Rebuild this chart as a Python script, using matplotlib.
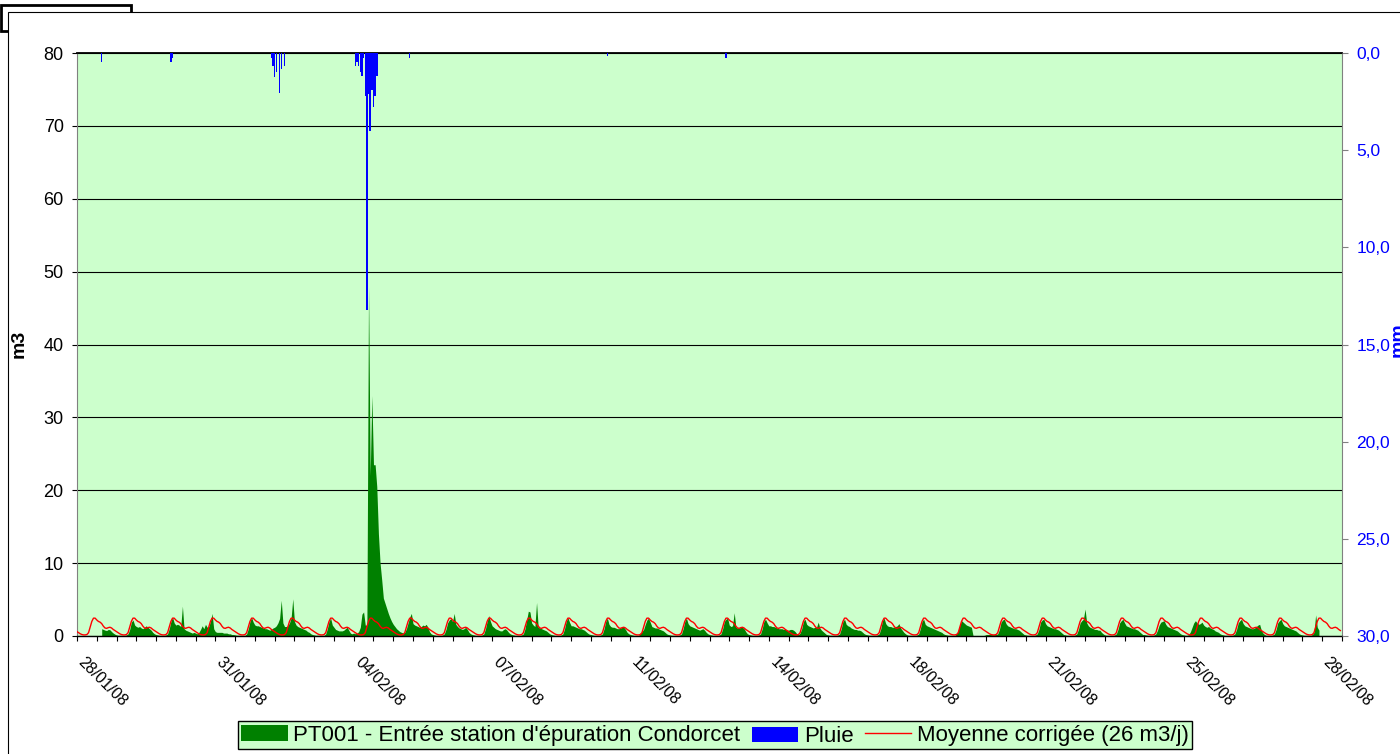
import numpy as np
import matplotlib.pyplot as plt
from matplotlib.patches import Rectangle
from matplotlib.lines import Line2D
from matplotlib.transforms import ScaledTranslation, blended_transform_factory

plt.rcParams['font.family'] = ['Liberation Sans', 'DejaVu Sans']

# x axis: hourly data from 28/01/08 00:00 to 29/02/08 00:00, label every 3.5 days
date_labels = ['28/01/08', '31/01/08', '04/02/08', '07/02/08', '11/02/08',
               '14/02/08', '18/02/08', '21/02/08', '25/02/08', '28/02/08']

# corrected mean daily profile (m3/h), hours 0..23, same every day
mean_profile = [0.6, 0.45, 0.3, 0.2, 0.15, 0.15, 0.2, 0.45, 1.2, 2.0, 2.45, 2.45,
                2.2, 2.0, 1.9, 1.7, 1.35, 1.1, 1.05, 1.15, 1.2, 1.1, 0.9, 0.75]

# measured flow PT001 (m3/h), one row per day, hours 0..23
flow_days = [
    [None] * 15 + [1.0, 0.9, 0.8, 0.75, 0.9, 0.85, 0.6, 0.4, 0.25],
    [0.15, 0.1, 0.1, 0.1, 0.1, 0.1, 0.15, 0.3, 0.9, 1.9, 2.2, 1.5, 1.3, 1.2, 1.3, 1.1, 1.0, 1.2, 1.4, 1.2, 1.0, 0.8, 0.5, 0.3],
    [0.2, 0.15, 0.1, 0.1, 0.1, 0.1, 0.15, 0.3, 1.0, 2.0, 2.6, 1.8, 1.5, 1.6, 1.5, 1.3, 4.1, 1.0, 0.8, 0.7, 0.6, 0.5, 0.4, 0.5],
    [0.4, 0.3, 0.5, 0.9, 1.4, 1.0, 1.6, 1.2, 1.3, 2.0, 3.1, 1.0, 0.6, 0.5, 0.5, 0.5, 0.5, 0.4, 0.4, 0.4, 0.3, 0.3, 0.2, 0.2],
    [0.15, 0.1, 0.1, 0.1, 0.1, 0.1, 0.1, 0.3, 1.0, 2.0, 2.55, 1.9, 1.5, 1.4, 1.4, 1.3, 1.2, 1.1, 1.0, 1.0, 0.9, 0.8, 0.9, 1.1],
    [1.2, 1.4, 1.8, 2.4, 4.9, 1.8, 1.3, 1.3, 1.4, 1.8, 2.5, 5.1, 2.0, 1.5, 1.3, 1.2, 1.1, 1.0, 0.9, 0.8, 0.6, 0.5, 0.3, 0.2],
    [0.15, 0.1, 0.1, 0.1, 0.1, 0.1, 0.1, 0.3, 1.0, 2.0, 2.45, 1.5, 1.2, 0.9, 0.8, 0.7, 0.7, 0.7, 0.8, 1.0, 1.2, 0.8, 0.4, 0.3],
    [0.4, 0.3, 0.4, 0.6, 1.2, 3.0, 3.3, 1.5, 1.5, 48.0, 22.0, 33.0, 23.5, 23.5, 20.5, 14.0, 10.0, 7.7, 5.2, 4.5, 3.8, 3.1, 2.5, 2.0],
    [1.6, 1.3, 1.0, 0.8, 0.6, 0.5, 0.4, 0.5, 1.0, 1.8, 2.6, 3.1, 1.7, 1.5, 1.4, 1.3, 1.2, 1.3, 1.5, 1.4, 1.6, 1.2, 0.6, 0.3],
    [0.2, 0.15, 0.1, 0.1, 0.1, 0.1, 0.15, 0.3, 0.9, 1.8, 2.2, 2.4, 2.0, 3.1, 1.6, 1.3, 1.1, 1.0, 0.9, 1.0, 1.2, 0.9, 0.5, 0.3],
    [0.2, 0.15, 0.1, 0.1, 0.1, 0.1, 0.15, 0.3, 1.0, 2.0, 2.8, 2.0, 1.4, 1.2, 1.0, 0.9, 0.8, 0.7, 0.7, 0.9, 1.0, 0.8, 0.5, 0.3],
    [0.2, 0.15, 0.1, 0.1, 0.1, 0.1, 0.15, 0.3, 1.0, 2.2, 3.4, 3.3, 1.8, 1.5, 1.3, 4.6, 1.2, 1.1, 1.0, 0.9, 0.8, 0.7, 0.5, 0.3],
    [0.2, 0.15, 0.1, 0.1, 0.1, 0.1, 0.15, 0.3, 1.0, 2.0, 2.55, 1.9, 1.4, 1.4, 1.3, 1.2, 1.1, 1.0, 1.0, 0.9, 0.8, 0.6, 0.4, 0.25],
    [0.2, 0.15, 0.1, 0.1, 0.1, 0.1, 0.15, 0.3, 1.0, 2.0, 2.45, 1.6, 1.3, 1.2, 1.2, 1.1, 1.0, 1.0, 1.1, 1.2, 1.2, 0.9, 0.5, 0.3],
    [0.2, 0.15, 0.1, 0.1, 0.1, 0.1, 0.4, 0.6, 0.9, 1.6, 2.2, 2.45, 1.9, 1.3, 1.2, 1.1, 1.1, 1.0, 0.9, 0.8, 0.7, 0.5, 0.3, 0.2],
    [0.15, 0.1, 0.1, 0.1, 0.1, 0.1, 0.15, 0.3, 1.0, 2.0, 2.45, 1.7, 1.4, 1.3, 1.2, 1.1, 1.0, 0.9, 0.8, 0.9, 1.0, 0.8, 0.5, 0.3],
    [0.2, 0.15, 0.1, 0.1, 0.1, 0.1, 0.15, 0.3, 1.0, 2.0, 2.3, 2.45, 1.5, 1.3, 1.4, 3.2, 1.2, 1.1, 1.1, 1.2, 1.2, 1.0, 0.6, 0.3],
    [0.2, 0.15, 0.1, 0.1, 0.1, 0.1, 0.15, 0.3, 1.0, 2.0, 2.3, 1.8, 1.4, 1.4, 1.3, 1.3, 1.2, 1.1, 1.0, 1.0, 1.0, 0.9, 0.9, 0.8],
    [0.8, 0.9, 0.9, 0.8, 0.6, 0.3, 0.2, 0.4, 1.0, 2.0, 2.3, 1.6, 1.4, 1.3, 1.2, 1.1, 1.2, 1.2, 1.9, 1.1, 0.8, 0.6, 0.4, 0.2],
    [0.15, 0.1, 0.1, 0.1, 0.1, 0.1, 0.15, 0.3, 1.0, 2.0, 2.3, 1.6, 1.4, 1.3, 1.1, 1.0, 0.9, 0.9, 0.8, 0.8, 0.7, 0.5, 0.3, 0.2],
    [0.15, 0.1, 0.1, 0.1, 0.1, 0.1, 0.15, 0.3, 1.0, 2.1, 2.45, 1.7, 1.4, 1.3, 1.3, 1.2, 1.2, 1.3, 1.4, 1.7, 1.1, 0.8, 0.5, 0.3],
    [0.15, 0.1, 0.1, 0.1, 0.1, 0.1, 0.15, 0.3, 1.0, 2.0, 2.3, 1.6, 1.4, 1.3, 1.2, 1.1, 1.0, 0.9, 0.8, 0.7, 0.6, 0.5, 0.3, 0.2],
    [0.15, 0.1, 0.1, 0.1, 0.1, 0.1, 0.3, 0.8, 1.5, 2.1, 1.9, 1.7, 1.5, 1.4, 1.3, 1.2, 0.05, 0.05, 0.05, 0.05, 0.05, 0.05, 0.05, 0.1],
    [0.2, 0.2, 0.2, 0.2, 0.2, 0.2, 0.2, 0.3, 0.9, 1.9, 2.2, 2.3, 1.7, 1.4, 1.3, 1.2, 1.1, 1.0, 1.0, 0.9, 0.8, 0.6, 0.4, 0.2],
    [0.15, 0.1, 0.1, 0.1, 0.1, 0.1, 0.15, 0.3, 0.9, 1.9, 2.2, 2.3, 1.7, 1.4, 1.3, 1.2, 1.1, 1.0, 1.0, 0.9, 0.8, 0.6, 0.4, 0.2],
    [0.15, 0.1, 0.1, 0.1, 0.1, 0.1, 0.15, 0.3, 0.9, 1.8, 2.1, 2.3, 3.7, 1.8, 1.4, 1.2, 1.1, 1.0, 0.9, 0.9, 0.8, 0.8, 0.5, 0.3],
    [0.15, 0.1, 0.1, 0.1, 0.1, 0.1, 0.15, 0.3, 0.9, 1.8, 2.1, 2.3, 1.8, 1.4, 1.3, 1.2, 1.1, 1.0, 1.0, 0.9, 0.8, 0.6, 0.4, 0.2],
    [0.2, 0.15, 0.1, 0.1, 0.1, 0.1, 0.15, 0.3, 0.8, 1.5, 1.9, 2.0, 2.1, 1.6, 1.3, 1.2, 1.1, 1.0, 0.9, 0.8, 0.7, 0.5, 0.3, 0.2],
    [0.15, 0.1, 0.1, 0.2, 0.6, 1.2, 1.8, 2.1, 1.8, 1.6, 1.7, 1.9, 1.5, 1.3, 1.2, 1.3, 1.1, 1.0, 0.9, 0.7, 0.6, 0.5, 0.3, 0.2],
    [0.15, 0.1, 0.1, 0.1, 0.1, 0.1, 0.15, 0.3, 0.9, 1.8, 2.1, 2.3, 1.7, 1.4, 1.3, 1.2, 1.1, 1.0, 1.0, 1.1, 1.3, 1.5, 1.6, 0.8],
    [0.4, 0.2, 0.1, 0.1, 0.1, 0.1, 0.15, 0.3, 0.9, 1.8, 2.1, 2.3, 1.7, 1.4, 1.3, 1.2, 1.1, 1.0, 0.9, 0.8, 0.7, 0.5, 0.3, 0.2],
    [0.15, 0.1, 0.1, 0.1, 0.1, 0.1, 0.2, 0.5, 2.9, 1.2, 0.8],
]

# rainfall (mm per hour), hour index counted from 28/01/08 00:00
rain_hour = [15, 57, 58, 118, 119, 120, 121, 123, 124, 126,
             169, 170, 171, 172, 173, 174, 175, 176, 177, 178, 179, 180, 181, 182,
             202, 322, 394]
rain_mm = [0.45, 0.45, 0.25, 0.24, 0.65, 1.22, 1.0, 2.04, 0.82, 0.65,
           0.65, 0.45, 0.65, 1.0, 1.2, 0.25, 2.2, 13.2, 2.1, 4.0, 1.9, 2.8, 2.2, 1.2,
           0.24, 0.15, 0.25]

n_days = 32
n_hours = n_days * 24
flow = sum(flow_days, [])
flow = np.array(flow + [None] * (n_hours - len(flow)), dtype=float)
mean = np.tile(mean_profile, n_days)
t = np.arange(n_hours)

W, H = 1400, 754
fig = plt.figure(figsize=(W / 100, H / 100), dpi=100)


def fx(x):
    return x / W


def fy(y):
    return 1 - y / H


# chart frame (with the thick corner of a box behind it)
fig.add_artist(Rectangle((fx(1.3), fy(30.5)), fx(130.7 - 1.3), (30.5 - 4.7) / H,
                         fill=False, ec='black', lw=2, transform=fig.transFigure, zorder=-3))
fig.add_artist(Rectangle((fx(8.3), fy(770)), fx(1420), (770 - 12.3) / H,
                         fc='white', ec='black', lw=0.8, transform=fig.transFigure, zorder=-2))

ax = fig.add_axes([fx(77), fy(636), fx(1342 - 77), (636 - 53) / H])
ax.set_facecolor('#CCFFCC')
ax.fill_between(t, 0, flow, color='#008000', lw=0, zorder=2)
ax.plot(t, mean, color='red', lw=1.0, zorder=3)

ax.set_xlim(0, n_hours)
ax.set_ylim(0, 80)
ax.set_yticks(range(0, 81, 10))
ax.yaxis.grid(True, color='black', lw=0.8)
ax.set_axisbelow(True)

label_pos = np.arange(len(date_labels)) * 84
ax.set_xticks(label_pos)
ax.set_xticks(np.arange(0, n_hours + 1, 12), minor=True)
ax.set_xticklabels([])
ax.tick_params(axis='x', which='both', direction='out', length=3.5, width=0.8)
ax.tick_params(axis='y', direction='out', length=3.6, width=0.8, labelsize=13, pad=6)

# rotated date labels, starting just right of each tick
lab_tr = blended_transform_factory(ax.transData, ax.transAxes) + \
    ScaledTranslation(0.09, -0.19, fig.dpi_scale_trans)
for pos, lab in zip(label_pos, date_labels):
    ax.text(pos, 0, lab, transform=lab_tr, rotation=-45, ha='left', va='top',
            rotation_mode='anchor', fontsize=11.5, clip_on=False)

for side in ['left', 'right']:
    ax.spines[side].set_color('#808080')
ax.spines['top'].set_linewidth(1.3)
ax.spines['bottom'].set_linewidth(1.0)

ax2 = ax.twinx()
ax2.bar(rain_hour, rain_mm, width=0.9, color='#0000FF', lw=0)
ax2.set_ylim(30, 0)
ax2.set_yticks(np.arange(0, 31, 5))
ax2.set_yticklabels([f'{v:.1f}'.replace('.', ',') for v in np.arange(0, 31, 5)])
ax2.tick_params(axis='y', direction='out', length=4.5, width=0.8, labelsize=12.5,
                pad=6, colors='#0000FF', color='#808080')
for s in ax2.spines.values():
    s.set_visible(False)

fig.text(fx(19), fy(344), 'm3', rotation=90, ha='center', va='center',
         fontsize=14, fontweight='bold')
fig.text(fx(1390), fy(340), 'mm', rotation=90, ha='left', va='center',
         fontsize=14, fontweight='bold', color='#0000FF')

handles = [Rectangle((0, 0), 1, 1, fc='#008000'),
           Rectangle((0, 0), 1, 1, fc='#0000FF'),
           Line2D([], [], color='red', lw=1.0)]
labels = ["PT001 - Entrée station d'épuration Condorcet", 'Pluie',
          'Moyenne corrigée (26 m3/j)']
leg = fig.legend(handles, labels, loc='center', bbox_to_anchor=(fx(715), fy(735)),
                 ncol=3, frameon=True, facecolor='#CCFFCC', edgecolor='black',
                 fancybox=False, framealpha=1, fontsize=16, handlelength=2.1,
                 handleheight=0.7, handletextpad=0.25, columnspacing=0.5,
                 borderpad=0.15, borderaxespad=0)
leg.get_frame().set_linewidth(1.0)
# the 'Pluie' column sits a little high (shorter glyphs): nudge it down
leg.texts[1].set_position((0, -1))
blue_handle = leg.legend_handles[1]
blue_handle.set_y(blue_handle.get_y() - 1.4)

fig.savefig('out.png', dpi=100)
